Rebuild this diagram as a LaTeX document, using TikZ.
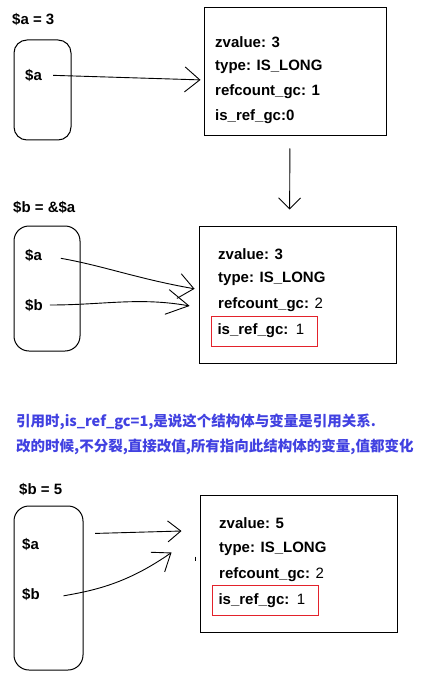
\documentclass[tikz,border=0pt]{standalone}
\usepackage{fontspec}
\setmainfont{Liberation Sans}
\newfontfamily\cjk{Noto Sans CJK SC}
\usetikzlibrary{arrows.meta}
\definecolor{ink}{HTML}{000000}
\definecolor{refmark}{HTML}{E3222B}
\definecolor{note}{HTML}{4141E1}
\tikzset{
  every node/.style={font=\bfseries\fontsize{15}{18}\selectfont,text=ink,inner sep=0pt},
  varbox/.style={draw=ink,line width=1pt},
  zvalbox/.style={draw=ink,line width=1pt},
  field/.style={anchor=west},
  reffield/.style={draw=refmark,line width=1pt,anchor=west,minimum height=30pt,text width=94pt,inner xsep=6pt},
  scrawl/.style={draw=ink,line width=.9pt,-{Straight Barb[length=15pt,width=25pt]}},
  notetext/.style={anchor=west,text=note,font=\cjk\bfseries\fontsize{14.5}{17}\selectfont}
}

\begin{document}
\begin{tikzpicture}[x=1pt,y=-1pt]
  \fill[white] (0,0) rectangle (425,679);
  \useasboundingbox (0,0) rectangle (425,679);

  % Step 1: $a = 3, one variable pointing to its zval.
  \node[anchor=west] (t1) at (12,19) {\$a = 3};
  \node[varbox,rounded corners=13pt,minimum width=57pt,minimum height=100pt] (v1) at (42.5,90) {};
  \node[anchor=west] (a1) at (25,75) {\$a};
  \node[zvalbox,minimum width=182pt,minimum height=128pt] (z1) at (295,72) {};
  \node[field] (z1v) at (215,42) {zvalue: 3};
  \node[field] (z1t) at (215,67) {type: IS\_LONG};
  \node[field] (z1c) at (215,92) {refcount\_gc: 1};
  \node[field] (z1r) at (215,117) {is\_ref\_gc:0};
  \draw[scrawl,shorten <=11pt,shorten >=3pt] (a1.east) -- ([yshift=-8pt]z1.west);

  % Step 2: $b = &$a, both names share the same zval.
  \node[anchor=west] (t2) at (13,207) {\$b = \&\$a};
  \node[varbox,rounded corners=15pt,minimum width=66pt,minimum height=125pt] (v2) at (47,288.5) {};
  \node[anchor=west] (a2) at (25,255) {\$a};
  \node[anchor=west] (b2) at (25,305) {\$b};
  \node[zvalbox,minimum width=197pt,minimum height=137pt] (z2) at (297.5,294.5) {};
  \node[field] (z2v) at (218,254) {zvalue: 3};
  \node[field] (z2t) at (218,279) {type: IS\_LONG};
  \node[field] (z2c) at (218,305) {refcount\_gc: {\mdseries 2}};
  \node[reffield] (z2r) at (211,331) {is\_ref\_gc: {\mdseries 1}};
  \draw[scrawl,-{Straight Barb[length=11pt,width=22pt]},shorten <=12pt,shorten >=16pt]
    ([xshift=-5pt]z1.south) -- ([xshift=-8pt]z2.north);
  \draw[scrawl,shorten <=19pt,shorten >=4pt] (a2.east) to[out=-10,in=170] ([yshift=5pt]z2.west);
  \draw[scrawl,-{Straight Barb[length=22pt,width=25pt]},shorten <=7pt,shorten >=9pt]
    (b2.east) to[out=0,in=170] ([yshift=-13pt]z2.west);

  % Note on what is_ref_gc = 1 means.
  \node[notetext] (n1) at (16,422) {引用时,is\_ref\_gc=1,是说这个结构体与变量是引用关系.};
  \node[notetext] (n2) at (16,447) {改的时候,不分裂,直接改值,所有指向此结构体的变量,值都变化};

  % Step 3: $b = 5, the shared zval is changed in place.
  \node[anchor=west] (t3) at (19,489) {\$b = 5};
  \node[varbox,rounded corners=15pt,minimum width=69pt,minimum height=164pt] (v3) at (48.5,588) {};
  \node[anchor=west] (a3) at (22,544) {\$a};
  \node[anchor=west] (b3) at (22,594) {\$b};
  \node[zvalbox,minimum width=197pt,minimum height=137pt] (z3) at (298.5,563.5) {};
  \node[field] (z3v) at (219,523) {zvalue: 5};
  \node[field] (z3t) at (219,549) {type: IS\_LONG};
  \node[field] (z3c) at (219,575) {refcount\_gc: {\mdseries 2}};
  \node[reffield] (z3r) at (212,600.5) {is\_ref\_gc: {\mdseries 1}};
  \draw[scrawl,-{Straight Barb[length=13pt,width=21pt]},shorten <=56pt,shorten >=18pt]
    ([yshift=9pt]a3.east) -- ([yshift=33pt]z3.west);
  \draw[scrawl,-{Straight Barb[length=16pt,width=24pt]},shorten <=24pt]
    ([yshift=-6pt]b3.east) to[out=10,in=215] ([xshift=-28pt,yshift=11pt]z3.west);
  \draw[ink,line width=1pt] ([xshift=-4pt,yshift=7pt]z3.west) -- ++(0,4);
\end{tikzpicture}
\end{document}
